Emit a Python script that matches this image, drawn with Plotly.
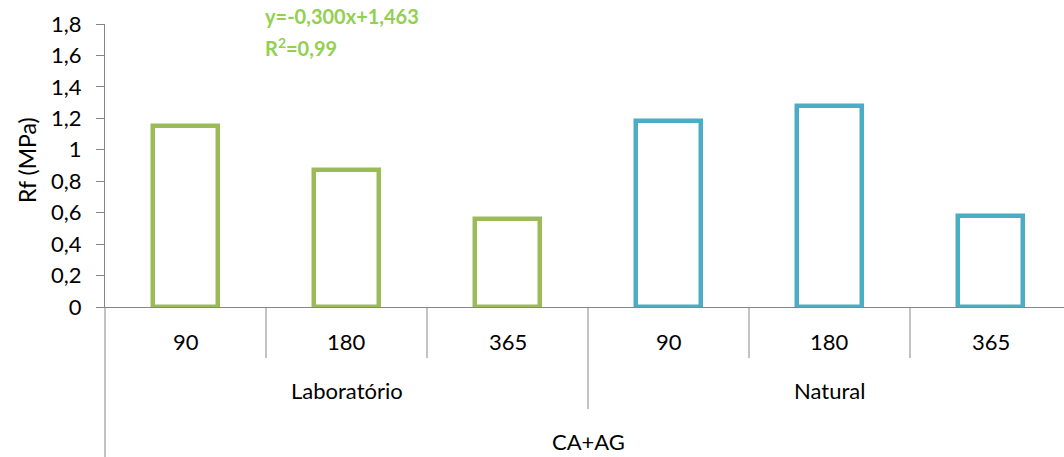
import plotly.graph_objects as go

# ---- data ----
groups = ["Laboratório", "Natural"]
days = ["90", "180", "365"]
lab_values = [1.15, 0.87, 0.56]
nat_values = [1.18, 1.28, 0.58]
outer_label = "CA+AG"
y_tickvals = [0, 0.2, 0.4, 0.6, 0.8, 1.0, 1.2, 1.4, 1.6, 1.8]
y_ticktext = ["0", "0,2", "0,4", "0,6", "0,8", "1", "1,2", "1,4", "1,6", "1,8"]
eq_text = "y=-0,300x+1,463"
r2_text = "R<sup>2</sup>=0,99"
y_title = "Rf (MPa)"

# ---- styles ----
W, H = 1064, 457
ML, MR, MT, MB = 105, 0, 24, 150
plot_w = W - ML - MR
plot_h = H - MT - MB
slot_px = 161
xmin = -0.5
xmax = xmin + plot_w / slot_px
green = "#9BBB59"
blue = "#4BACC6"
eq_color = "#92D050"
axis_color = "#868686"
FONT = "Lato"
fs = 22

def py(pix):
    """pixel row -> paper y"""
    return (H - MB - pix) / plot_h

def px_from_x(xv):
    return (xv - xmin) / (xmax - xmin)

n = len(days)
lab_x = list(range(n))
nat_x = list(range(n, 2 * n))

fig = go.Figure()
fig.add_trace(go.Bar(x=lab_x, y=lab_values, width=0.4,
                     marker=dict(color="white", line=dict(color=green, width=4.5)),
                     showlegend=False))
fig.add_trace(go.Bar(x=nat_x, y=nat_values, width=0.4,
                     marker=dict(color="white", line=dict(color=blue, width=4.5)),
                     showlegend=False))

shapes = []
for g in range(len(groups)):
    for k in range(1, n):
        xb = g * n + k - 0.5
        shapes.append(dict(type="line", xref="paper", yref="paper",
                           x0=px_from_x(xb), x1=px_from_x(xb), y0=0, y1=py(358),
                           line=dict(color=axis_color, width=1)))
for g in range(1, len(groups)):
    xb = g * n - 0.5
    shapes.append(dict(type="line", xref="paper", yref="paper",
                       x0=px_from_x(xb), x1=px_from_x(xb), y0=0, y1=py(409),
                       line=dict(color=axis_color, width=1)))
shapes.append(dict(type="line", xref="paper", yref="paper",
                   x0=0, x1=0, y0=0, y1=py(H),
                   line=dict(color=axis_color, width=1)))

annotations = []
for g, grp in enumerate(groups):
    for k, d in enumerate(days):
        annotations.append(dict(x=g * n + k, xref="x", y=py(341), yref="paper",
                                text=d, showarrow=False, yanchor="middle",
                                font=dict(family=FONT, size=fs, color="black")))
    annotations.append(dict(x=g * n + (n - 1) / 2, xref="x", y=py(391), yref="paper",
                            text=grp, showarrow=False, yanchor="middle",
                            font=dict(family=FONT, size=fs, color="black")))
annotations.append(dict(x=(len(groups) * n - 1) / 2, xref="x", y=py(441), yref="paper",
                        text=outer_label, showarrow=False, yanchor="middle",
                        font=dict(family=FONT, size=fs, color="black")))
annotations.append(dict(x=(263 - ML) / plot_w, xref="paper", y=py(16), yref="paper",
                        text="<b>" + eq_text + "</b>", showarrow=False,
                        xanchor="left", yanchor="middle",
                        font=dict(family=FONT, size=20, color=eq_color)))
annotations.append(dict(x=(263 - ML) / plot_w, xref="paper", y=py(47), yref="paper",
                        text="<b>" + r2_text + "</b>", showarrow=False,
                        xanchor="left", yanchor="middle",
                        font=dict(family=FONT, size=20, color=eq_color)))
annotations.append(dict(x=(27 - ML) / plot_w, xref="paper", y=py(160), yref="paper",
                        text=y_title, showarrow=False, textangle=-90,
                        xanchor="center", yanchor="middle",
                        font=dict(family=FONT, size=23, color="black")))

fig.update_layout(
    width=W, height=H,
    margin=dict(l=ML, r=MR, t=MT, b=MB),
    paper_bgcolor="white", plot_bgcolor="white",
    bargap=0,
    shapes=shapes, annotations=annotations,
    xaxis=dict(range=[xmin, xmax], showticklabels=False, showgrid=False,
               zeroline=False, showline=True, linecolor=axis_color, linewidth=1,
               ticks=""),
    yaxis=dict(range=[0, 1.8], tickvals=y_tickvals, ticktext=y_ticktext,
               showgrid=False, zeroline=False, showline=True,
               linecolor=axis_color, linewidth=1,
               ticks="outside", ticklen=8, tickcolor=axis_color, tickwidth=1,
               ticklabelstandoff=10,
               tickfont=dict(family=FONT, size=fs, color="black")),
)

fig.write_html("out.html", config={"displayModeBar": False},
               post_script="document.body.style.margin='0';")
